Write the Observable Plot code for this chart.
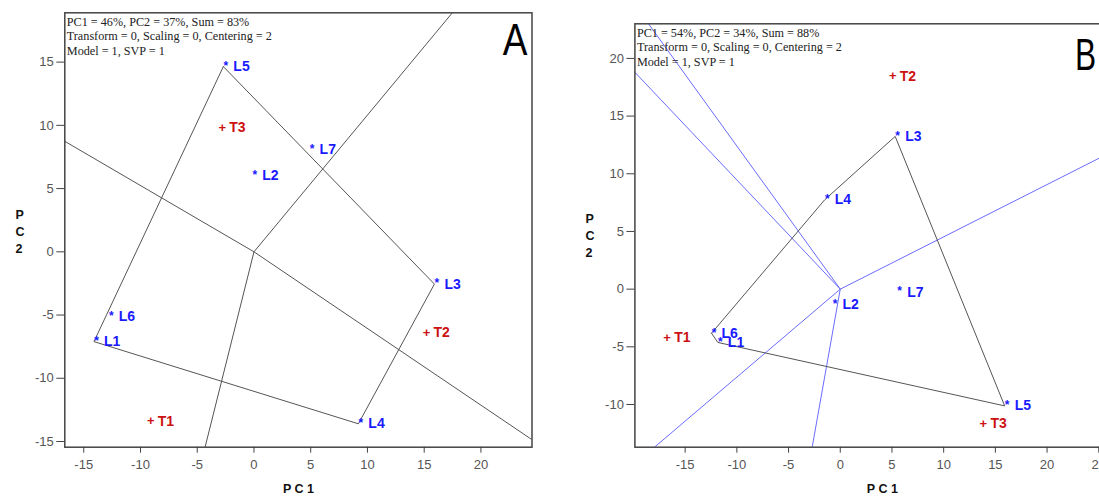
<!DOCTYPE html>
<html><head><meta charset="utf-8">
<script src="https://cdn.jsdelivr.net/npm/d3@7"></script>
<script src="https://cdn.jsdelivr.net/npm/@observablehq/plot@0.6"></script>
<style>
html,body{margin:0;padding:0;background:#fff;overflow:hidden;width:1099px;height:499px;}
#a{position:absolute;left:0;top:0;width:560px;height:499px;}
#b{position:absolute;left:560px;top:0;width:640px;height:499px;}
</style></head><body>
<div id="a"></div><div id="b"></div>
<script>
// ---------- Panel A data ----------
const aNames = ["L1","L2","L3","L4","L5","L6","L7","T1","T2","T3"];
const aPC1   = [-14.1,-0.15,15.9,9.2,-2.7,-12.8,4.9,-9.1,15.2,-2.8];
const aPC2   = [-7.1,6.05,-2.55,-13.6,14.65,-5.1,8.05,-13.4,-6.4,9.8];
const aHull  = ["L5","L3","L4","L1"];
const aInfo  = ["PC1 = 46%, PC2 = 37%, Sum = 83%", "Transform = 0, Scaling = 0, Centering = 2", "Model = 1, SVP = 1"];
const aXTicks = [-15,-10,-5,0,5,10,15,20];
const aYTicks = [-15,-10,-5,0,5,10,15];

// ---------- Panel B data ----------
const bNames = ["L1","L2","L3","L4","L5","L6","L7","T1","T2","T3"];
const bPC1   = [-11.84,-0.75,5.31,-1.5,15.9,-12.45,5.5,-16.74,5.08,13.84];
const bPC2   = [-4.62,-1.35,13.24,7.75,-10.12,-3.82,-0.25,-4.22,18.45,-11.68];
const bHull  = ["L6","L4","L3","L5","L1"];
const bInfo  = ["PC1 = 54%, PC2 = 34%, Sum = 88%", "Transform = 0, Scaling = 0, Centering = 2", "Model = 1, SVP = 1"];
const bXTicks = [-15,-10,-5,0,5,10,15,20,25];
const bYTicks = [-10,-5,0,5,10,15,20];

const BLUE = "#1a1aff", RED = "#cc1111";

function rays(rows, hull) {
  const pts = hull.map(n => rows.find(r => r.name === n));
  const out = [];
  for (let i = 0; i < pts.length; i++) {
    const p = pts[i], q = pts[(i + 1) % pts.length];
    const dx = q.x - p.x, dy = q.y - p.y;
    const t = -(p.x * dx + p.y * dy) / (dx * dx + dy * dy);
    const fx = p.x + t * dx, fy = p.y + t * dy;
    const len = Math.hypot(fx, fy);
    out.push({x1: 0, y1: 0, x2: fx / len * 300, y2: fy / len * 300});
  }
  return out;
}

function panel(o) {
  const rows = o.names.map((n, i) => ({name: n, x: o.pc1[i], y: o.pc2[i], kind: n[0]}));
  const hullPts = o.hull.map(n => rows.find(r => r.name === n));
  const closed = hullPts.concat([hullPts[0]]);
  const Ls = rows.filter(r => r.kind === "L");
  const Ts = rows.filter(r => r.kind === "T");
  const svg = Plot.plot({
    width: o.width, height: 499,
    marginLeft: o.ml, marginRight: o.mr, marginTop: o.mt, marginBottom: 52.3,
    x: {domain: o.xd}, y: {domain: o.yd},
    style: {background: "transparent", overflow: "visible", maxWidth: "none", fontFamily: "Liberation Sans, Arial, sans-serif"},
    marks: [
      Plot.link(rays(rows, o.hull), {x1: "x1", y1: "y1", x2: "x2", y2: "y2", stroke: o.rayColor, strokeWidth: 1, clip: true}),
      Plot.line(closed, {x: "x", y: "y", stroke: "#555", strokeWidth: 1, clip: true}),
      Plot.text(Ls, {x: "x", y: "y", text: () => "*", dx: 2.5, dy: -0.5, fill: BLUE, fontSize: 12, fontWeight: "bold"}),
      Plot.text(Ts, {x: "x", y: "y", text: () => "+", fill: RED, fontSize: 13, fontWeight: "bold"}),
      Plot.text(Ls, {x: "x", y: "y", text: "name", dx: 10, textAnchor: "start", fill: BLUE, fontSize: 14, fontWeight: "bold"}),
      Plot.text(Ts, {x: "x", y: "y", text: "name", dx: 7, textAnchor: "start", fill: RED, fontSize: 14, fontWeight: "bold"}),
      Plot.frame({stroke: "#444", strokeWidth: 1.5}),
      Plot.axisX(o.xt, {tickSize: 6, tickPadding: 7, fontSize: 13, fill: "#555", stroke: "#444", label: null, tickFormat: d => String(d)}),
      Plot.axisY(o.yt, {tickSize: 8, tickPadding: 3, fontSize: 13, fill: "#555", stroke: "#444", label: null, tickFormat: d => String(d)}),
      Plot.text([o.info.join("\n")], {frameAnchor: "top-left", text: d => d, textAnchor: "start", lineAnchor: "top", lineHeight: 1.19, dx: 2, dy: 2.5, fontSize: 12.2, fontFamily: "Liberation Serif, Times New Roman, serif", fill: "#222"}),
      Plot.text([o.letter], {frameAnchor: o.letterAnchor, text: d => d, textAnchor: o.letterTA, lineAnchor: "top", dx: o.letterDx, dy: o.letterDy, fontSize: 44, fill: "#000"}),
      Plot.text(["P C 1"], {frameAnchor: "bottom", text: d => d, dy: 46, fontSize: 12.5, fontWeight: "bold", fill: "#111"}),
      Plot.text(["P\nC\n2"], {frameAnchor: "left", text: d => d, dx: o.pcDx, dy: o.pcDy, lineHeight: 1.36, fontSize: 12.5, fontWeight: "bold", fill: "#111"})
    ]
  });
  // horizontally condense the big panel letter, as in the reference
  svg.querySelectorAll("text").forEach(el => {
    if (el.textContent === o.letter && el.closest("g") && (el.getAttribute("font-size") === "44" || (el.parentNode.getAttribute && el.parentNode.getAttribute("font-size") === "44"))) {
      const t = el.getAttribute("transform") || "";
      const x = +(el.getAttribute("x") || 0);
      el.setAttribute("transform", `${t} translate(${x},0) scale(${o.letterScale},1) translate(${-x},0)`);
    }
  });
  return svg;
}

document.getElementById("a").appendChild(panel({
  names: aNames, pc1: aPC1, pc2: aPC2, hull: aHull, info: aInfo, xt: aXTicks, yt: aYTicks,
  width: 560, ml: 64.3, mr: 28.5, mt: 12.3, xd: [-16.67, 24.5], yd: [-15.45, 18.9],
  rayColor: "#555", letter: "A", letterAnchor: "top-right", letterTA: "end", letterDx: -4.5, letterDy: 10.5, letterScale: 0.84, pcDx: -49.3, pcDy: 0.5
}));
document.getElementById("b").appendChild(panel({
  names: bNames, pc1: bPC1, pc2: bPC2, hull: bHull, info: bInfo, xt: bXTicks, yt: bYTicks,
  width: 640, ml: 74.4, mr: 70.7, mt: 23.3, xd: [-19.86, 28], yd: [-13.7, 23],
  rayColor: "#6b6bff", letter: "B", letterAnchor: "top-left", letterTA: "start", letterDx: 440, letterDy: 15, letterScale: 0.72, pcDx: -49.4, pcDy: -0.5
}));
</script>
</body></html>
